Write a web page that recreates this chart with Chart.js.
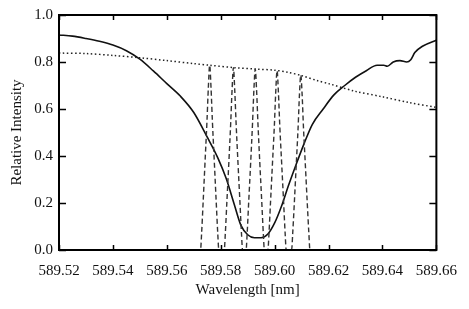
<!DOCTYPE html>
<html>
<head>
<meta charset="utf-8">
<script src="https://cdn.jsdelivr.net/npm/chart.js@4"></script>
<style>
  html, body { margin: 0; padding: 0; background: #fff; }
  #wrap { width: 469px; height: 309px; }
</style>
</head>
<body>
<div id="wrap"><canvas id="chart"></canvas></div>
<script>
// Tick labels
const xTicks = [589.52, 589.54, 589.56, 589.58, 589.60, 589.62, 589.64, 589.66];
const yTicks = [0.0, 0.2, 0.4, 0.6, 0.8, 1.0];

// Solar line profile (solid)
const lineX = [589.520, 589.525, 589.530, 589.535, 589.540, 589.545, 589.550, 589.555, 589.560,
  589.565, 589.570, 589.575, 589.579, 589.582, 589.585, 589.5875, 589.590, 589.5925, 589.595,
  589.5975, 589.600, 589.6025, 589.605, 589.608, 589.611, 589.614, 589.618, 589.622, 589.626,
  589.630, 589.634, 589.638, 589.6405, 589.6418, 589.644, 589.6465, 589.649, 589.6505, 589.652,
  589.655, 589.660];
const lineY = [0.915, 0.910, 0.900, 0.888, 0.872, 0.848, 0.812, 0.762, 0.708,
  0.655, 0.585, 0.480, 0.390, 0.305, 0.195, 0.105, 0.065, 0.052, 0.052,
  0.068, 0.115, 0.185, 0.270, 0.365, 0.455, 0.535, 0.600, 0.660, 0.700,
  0.735, 0.763, 0.786, 0.786, 0.782, 0.800, 0.806, 0.800, 0.810, 0.840,
  0.868, 0.893];

// Continuum / envelope (dotted)
const envX = [589.520, 589.530, 589.540, 589.550, 589.560, 589.570, 589.576, 589.585, 589.593,
  589.600, 589.605, 589.610, 589.616, 589.620, 589.630, 589.640, 589.650, 589.660];
const envY = [0.838, 0.836, 0.828, 0.818, 0.806, 0.793, 0.786, 0.776, 0.770,
  0.765, 0.756, 0.742, 0.720, 0.708, 0.675, 0.652, 0.627, 0.607];

// Filter transmission peaks (dashed)
const filterX = [589.520,
  589.5725, 589.5729, 589.5735, 589.5742, 589.5749, 589.5754, 589.5759, 589.5764, 589.5769, 589.5776, 589.5783, 589.5789, 589.5793,
  589.5813, 589.5817, 589.5823, 589.5830, 589.5837, 589.5842, 589.5847, 589.5852, 589.5857, 589.5864, 589.5871, 589.5877, 589.5881,
  589.5894, 589.5898, 589.5904, 589.5911, 589.5918, 589.5923, 589.5928, 589.5933, 589.5938, 589.5945, 589.5952, 589.5958, 589.5962,
  589.5975, 589.5979, 589.5985, 589.5992, 589.5999, 589.6004, 589.6009, 589.6014, 589.6019, 589.6026, 589.6033, 589.6039, 589.6043,
  589.6063, 589.6067, 589.6073, 589.6080, 589.6087, 589.6092, 589.6097, 589.6102, 589.6107, 589.6114, 589.6121, 589.6127, 589.6131,
  589.660];
const filterY = [0,
  0, 0.07, 0.21, 0.38, 0.55, 0.69, 0.786, 0.69, 0.55, 0.38, 0.21, 0.07, 0,
  0, 0.07, 0.21, 0.37, 0.54, 0.68, 0.776, 0.68, 0.54, 0.37, 0.21, 0.07, 0,
  0, 0.07, 0.21, 0.37, 0.54, 0.68, 0.770, 0.68, 0.54, 0.37, 0.21, 0.07, 0,
  0, 0.07, 0.21, 0.37, 0.53, 0.67, 0.763, 0.67, 0.53, 0.37, 0.21, 0.07, 0,
  0, 0.07, 0.20, 0.36, 0.52, 0.66, 0.745, 0.66, 0.52, 0.36, 0.20, 0.07, 0,
  0];

const toPoints = (xs, ys) => xs.map((x, i) => ({ x: x, y: ys[i] }));

const serif = 'Liberation Serif, Times New Roman, serif';

// Box frame with inward ticks on all four sides
const frameTicks = {
  id: 'frameTicks',
  afterDraw(chart) {
    const { ctx, chartArea: a, scales: { x, y } } = chart;
    ctx.save();
    ctx.strokeStyle = '#000';
    ctx.lineWidth = 1.5;
    ctx.beginPath();
    x.ticks.forEach(t => {
      const px = Math.round(x.getPixelForValue(t.value)) + 0.5;
      ctx.moveTo(px, a.bottom); ctx.lineTo(px, a.bottom - 5);
      ctx.moveTo(px, a.top); ctx.lineTo(px, a.top + 5);
    });
    y.ticks.forEach(t => {
      const py = Math.round(y.getPixelForValue(t.value)) + 0.5;
      ctx.moveTo(a.left, py); ctx.lineTo(a.left + 7, py);
      ctx.moveTo(a.right, py); ctx.lineTo(a.right - 7, py);
    });
    ctx.stroke();
    ctx.lineWidth = 2;
    ctx.strokeRect(a.left, a.top, a.right - a.left, a.bottom - a.top);
    ctx.restore();
  }
};

new Chart(document.getElementById('chart'), {
  type: 'line',
  data: {
    datasets: [
      {
        label: 'Filter',
        data: toPoints(filterX, filterY),
        borderColor: '#333',
        borderWidth: 1.4,
        borderDash: [5, 3],
        pointRadius: 0,
        cubicInterpolationMode: 'monotone'
      },
      {
        label: 'Continuum',
        data: toPoints(envX, envY),
        borderColor: '#222',
        borderWidth: 1.5,
        borderDash: [1.5, 2.5],
        pointRadius: 0,
        tension: 0.3
      },
      {
        label: 'Line profile',
        data: toPoints(lineX, lineY),
        borderColor: '#111',
        borderWidth: 1.6,
        pointRadius: 0,
        cubicInterpolationMode: 'monotone'
      }
    ]
  },
  options: {
    responsive: true,
    maintainAspectRatio: false,
    animation: false,
    layout: { padding: { top: 15, right: 29, left: 0, bottom: 0 } },
    plugins: {
      legend: { display: false },
      tooltip: { enabled: false }
    },
    scales: {
      x: {
        type: 'linear',
        min: 589.52,
        max: 589.66,
        afterBuildTicks: s => { s.ticks = xTicks.map(v => ({ value: v })); },
        afterFit: s => { s.height = 59; },
        grid: { display: false, drawTicks: false },
        border: { display: false },
        ticks: {
          padding: 12,
          color: '#111',
          font: { family: serif, size: 15 },
          callback: v => v.toFixed(2)
        },
        title: {
          display: true,
          text: 'Wavelength [nm]',
          color: '#111',
          font: { family: serif, size: 15 },
          padding: { top: 0, bottom: 10 }
        }
      },
      y: {
        min: 0,
        max: 1,
        afterBuildTicks: s => { s.ticks = yTicks.map(v => ({ value: v })); },
        afterFit: s => { s.width = 59; },
        grid: { display: false, drawTicks: false },
        border: { display: false },
        ticks: {
          padding: 6,
          color: '#111',
          font: { family: serif, size: 15 },
          callback: v => v.toFixed(1)
        },
        title: {
          display: true,
          text: 'Relative Intensity',
          color: '#111',
          font: { family: serif, size: 15 },
          padding: { top: 8, bottom: 0 }
        }
      }
    }
  },
  plugins: [frameTicks]
});
</script>
</body>
</html>
